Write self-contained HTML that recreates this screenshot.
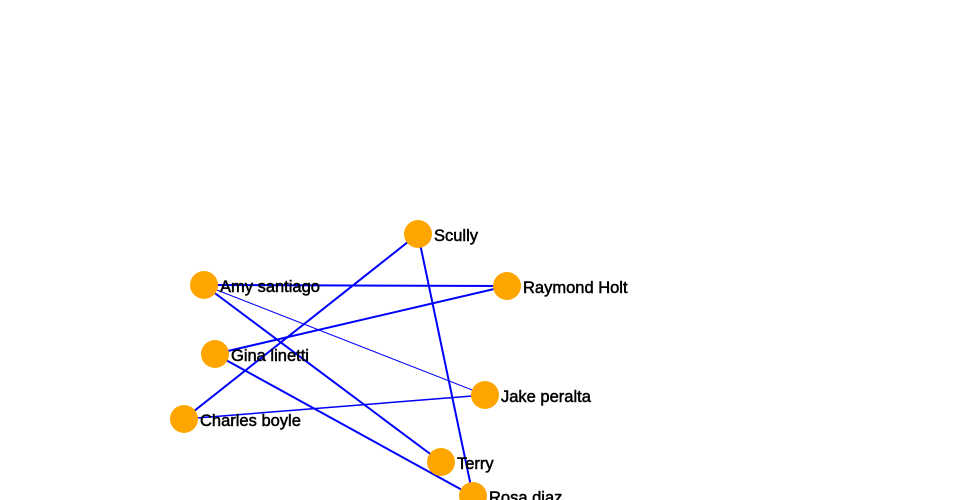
<!DOCTYPE html>
<html><head><meta charset="utf-8"><style>
html,body{margin:0;padding:0;background:#fff;width:960px;height:500px;overflow:hidden}
svg{display:block}
text{font-family:"Liberation Sans","DejaVu Sans",sans-serif;font-size:16.5px;fill:#000;stroke:#000;stroke-width:0.5px}
</style></head><body>
<svg width="960" height="500" viewBox="0 0 960 500" xmlns="http://www.w3.org/2000/svg">
<g stroke="#0000ff" fill="none" stroke-width="2">
<line x1="204" y1="285" x2="507" y2="286"/>
<line x1="204" y1="285" x2="485" y2="395" stroke-width="1"/>
<line x1="204" y1="285" x2="441" y2="462"/>
<line x1="418" y1="234" x2="184" y2="419"/>
<line x1="418" y1="234" x2="473" y2="496"/>
<line x1="215" y1="354" x2="507" y2="286"/>
<line x1="215" y1="354" x2="473" y2="496"/>
<line x1="184" y1="419" x2="485" y2="395" stroke-width="1.5"/>
</g>
<g fill="#ffa500">
<circle cx="418" cy="234" r="14"/>
<circle cx="204" cy="285" r="14"/>
<circle cx="507" cy="286" r="14"/>
<circle cx="215" cy="354" r="14"/>
<circle cx="485" cy="395" r="14"/>
<circle cx="184" cy="419" r="14"/>
<circle cx="441" cy="462" r="14"/>
<circle cx="473" cy="496" r="14"/>
</g>
<text x="434" y="241">Scully</text>
<text x="220" y="292">Amy santiago</text>
<text x="523" y="293">Raymond Holt</text>
<text x="231" y="361">Gina linetti</text>
<text x="501" y="402">Jake peralta</text>
<text x="200" y="426">Charles boyle</text>
<text x="457" y="469">Terry</text>
<text x="489" y="503">Rosa diaz</text>
</svg>
</body></html>
